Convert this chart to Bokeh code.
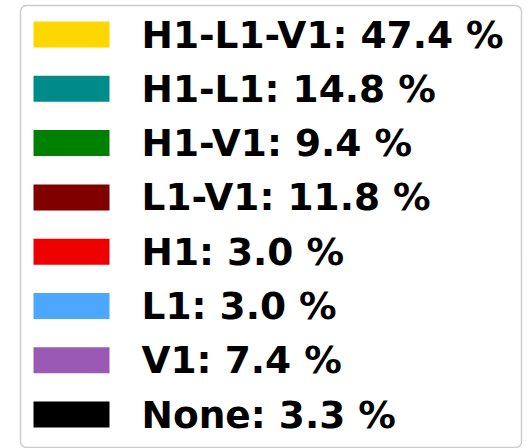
from bokeh.plotting import figure
from bokeh.models import Range1d, ColumnDataSource
from bokeh.core.properties import value
from bokeh.embed import file_html
from bokeh.resources import INLINE

# Data
categories = ["H1-L1-V1", "H1-L1", "H1-V1", "L1-V1", "H1", "L1", "V1", "None"]
percents = [47.4, 14.8, 9.4, 11.8, 3.0, 3.0, 7.4, 3.3]
colors = ["#ffd700", "#008b8b", "#008000", "#800000", "#ee0000", "#4da6ff", "#9b59b6", "#000000"]

W, H = 528, 448
p = figure(width=W, height=H, output_backend="svg", toolbar_location=None,
           x_range=Range1d(0, W), y_range=Range1d(H, 0),
           min_border=0, outline_line_color=None)
p.axis.visible = False
p.grid.visible = False
p.background_fill_color = "white"
p.border_fill_color = "white"

# legend frame
p.rect(x=[270.5], y=[226], width=[501], height=[442],
       fill_color="white", line_color="#cccccc", line_width=1.5, border_radius=6)

row0, step = 34, 54.3
ys = [row0 + i * step for i in range(len(categories))]
labels = [f"{c}: {v:.1f} %" for c, v in zip(categories, percents)]
src = ColumnDataSource(dict(y=ys, color=colors, label=labels))

p.rect(x=71, y="y", width=76, height=26, fill_color="color", line_color=None, source=src)
p.text(x=141, y="y", text="label", source=src, text_font=value("DejaVu Sans"),
       text_font_style="bold", text_font_size="37.5px", text_baseline="middle",
       text_align="left", text_color="black")

open("out.html", "w").write(file_html(p, INLINE))
